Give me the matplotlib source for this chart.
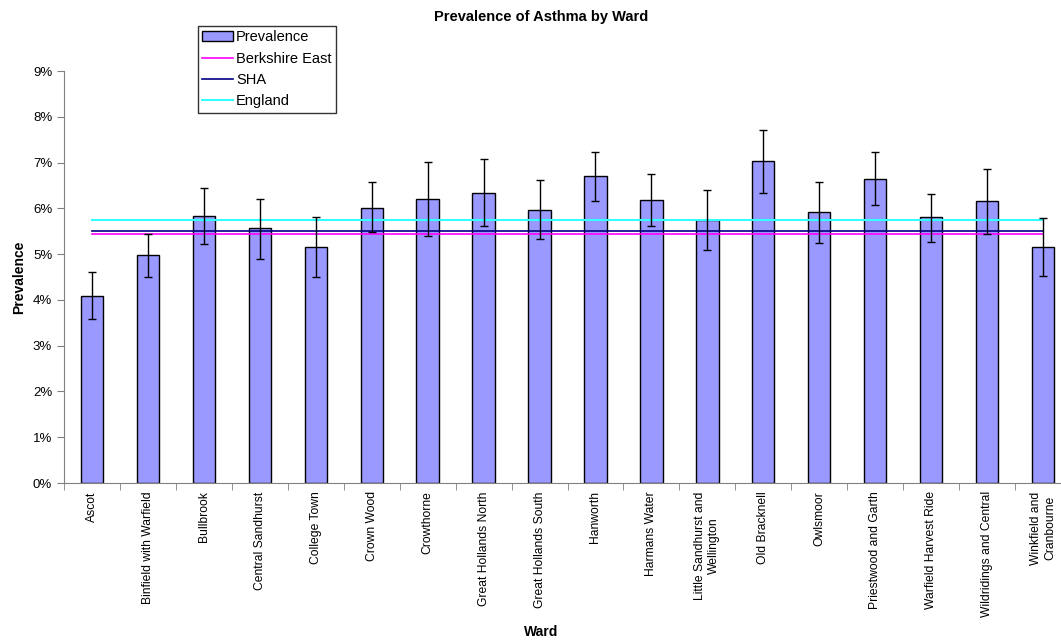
import matplotlib
matplotlib.use("Agg")
import matplotlib.pyplot as plt
import numpy as np
from matplotlib.ticker import FuncFormatter, MultipleLocator

plt.rcParams['font.family'] = ['Liberation Sans', 'DejaVu Sans']

wards = ["Ascot", "Binfield with Warfield", "Bullbrook", "Central Sandhurst",
         "College Town", "Crown Wood", "Crowthorne", "Great Hollands North",
         "Great Hollands South", "Hanworth", "Harmans Water",
         "Little Sandhurst and\nWellington", "Old Bracknell", "Owlsmoor",
         "Priestwood and Garth", "Warfield Harvest Ride",
         "Wildridings and Central", "Winkfield and\nCranbourne"]
prevalence = [4.08, 4.97, 5.83, 5.56, 5.16, 6.01, 6.20, 6.34, 5.97,
              6.70, 6.19, 5.74, 7.03, 5.91, 6.65, 5.80, 6.15, 5.16]
ci_upper = [4.61, 5.45, 6.44, 6.20, 5.80, 6.57, 7.01, 7.08, 6.61,
            7.24, 6.76, 6.39, 7.72, 6.58, 7.23, 6.31, 6.86, 5.79]
ci_lower = [3.58, 4.51, 5.22, 4.90, 4.51, 5.48, 5.40, 5.61, 5.34,
            6.16, 5.61, 5.10, 6.34, 5.24, 6.07, 5.27, 5.44, 4.52]
berkshire_east = 5.45
sha = 5.50
england = 5.75

fig = plt.figure(figsize=(10.61, 6.44), dpi=100)
ax = fig.add_axes([64/1061, 1-483/644, 1007/1061, 412/644])

x = np.arange(len(wards))
prev = np.array(prevalence)
yerr = [prev - np.array(ci_lower), np.array(ci_upper) - prev]

h_bar = ax.bar(x, prev, width=0.4, color='#9999FF', edgecolor='black',
               linewidth=1.0, label='Prevalence', zorder=2)
ax.errorbar(x, prev, yerr=yerr, fmt='none', ecolor='black', elinewidth=1.0,
            capsize=3, capthick=1.0, zorder=4)
h_be, = ax.plot(x, [berkshire_east]*len(x), color='#FF00FF', lw=1.2, label='Berkshire East', zorder=3)
h_sha, = ax.plot(x, [sha]*len(x), color='#000080', lw=1.2, label='SHA', zorder=3)
h_eng, = ax.plot(x, [england]*len(x), color='#33FFFF', lw=1.5, label='England', zorder=3)

ax.set_xlim(-0.5, len(wards) - 0.5)
ax.set_ylim(0, 9)
ax.yaxis.set_major_locator(MultipleLocator(1))
ax.yaxis.set_major_formatter(FuncFormatter(lambda v, p: f"{int(round(v))}%"))
ax.set_xticks(x)
ax.set_xticklabels(wards, rotation=90, fontsize=8.7, ha='center', va='top',
                   multialignment='center')
ax.set_xticks(np.arange(-0.5, len(wards), 1), minor=True)
ax.tick_params(axis='x', which='major', length=0, pad=6)
ax.tick_params(axis='x', which='minor', length=5, color='#808080')
ax.tick_params(axis='y', length=5, labelsize=9.5, color='#808080')
for s in ['top', 'right']:
    ax.spines[s].set_visible(False)
for s in ['left', 'bottom']:
    ax.spines[s].set_color('#808080')

ax.set_ylabel('Prevalence', fontsize=10, fontweight='bold', labelpad=5)
fig.text(541/1061, 1-632/644, 'Ward', ha='center', va='center', fontsize=10,
         fontweight='bold')
fig.text(541/1061, 1-17/644, 'Prevalence of Asthma by Ward', ha='center',
         va='center', fontsize=10.5, fontweight='bold')

leg = fig.legend([h_bar, h_be, h_sha, h_eng],
                 ['Prevalence', 'Berkshire East', 'SHA', 'England'],
                 loc='upper left', bbox_to_anchor=(198/1061, 1-26/644),
                 fontsize=10.5, frameon=True, fancybox=False, edgecolor='black',
                 borderpad=0.3, labelspacing=0.5, handlelength=2.1,
                 handletextpad=0.2, borderaxespad=0)
leg.get_frame().set_linewidth(1.0)

fig.savefig('out.png', dpi=100)
